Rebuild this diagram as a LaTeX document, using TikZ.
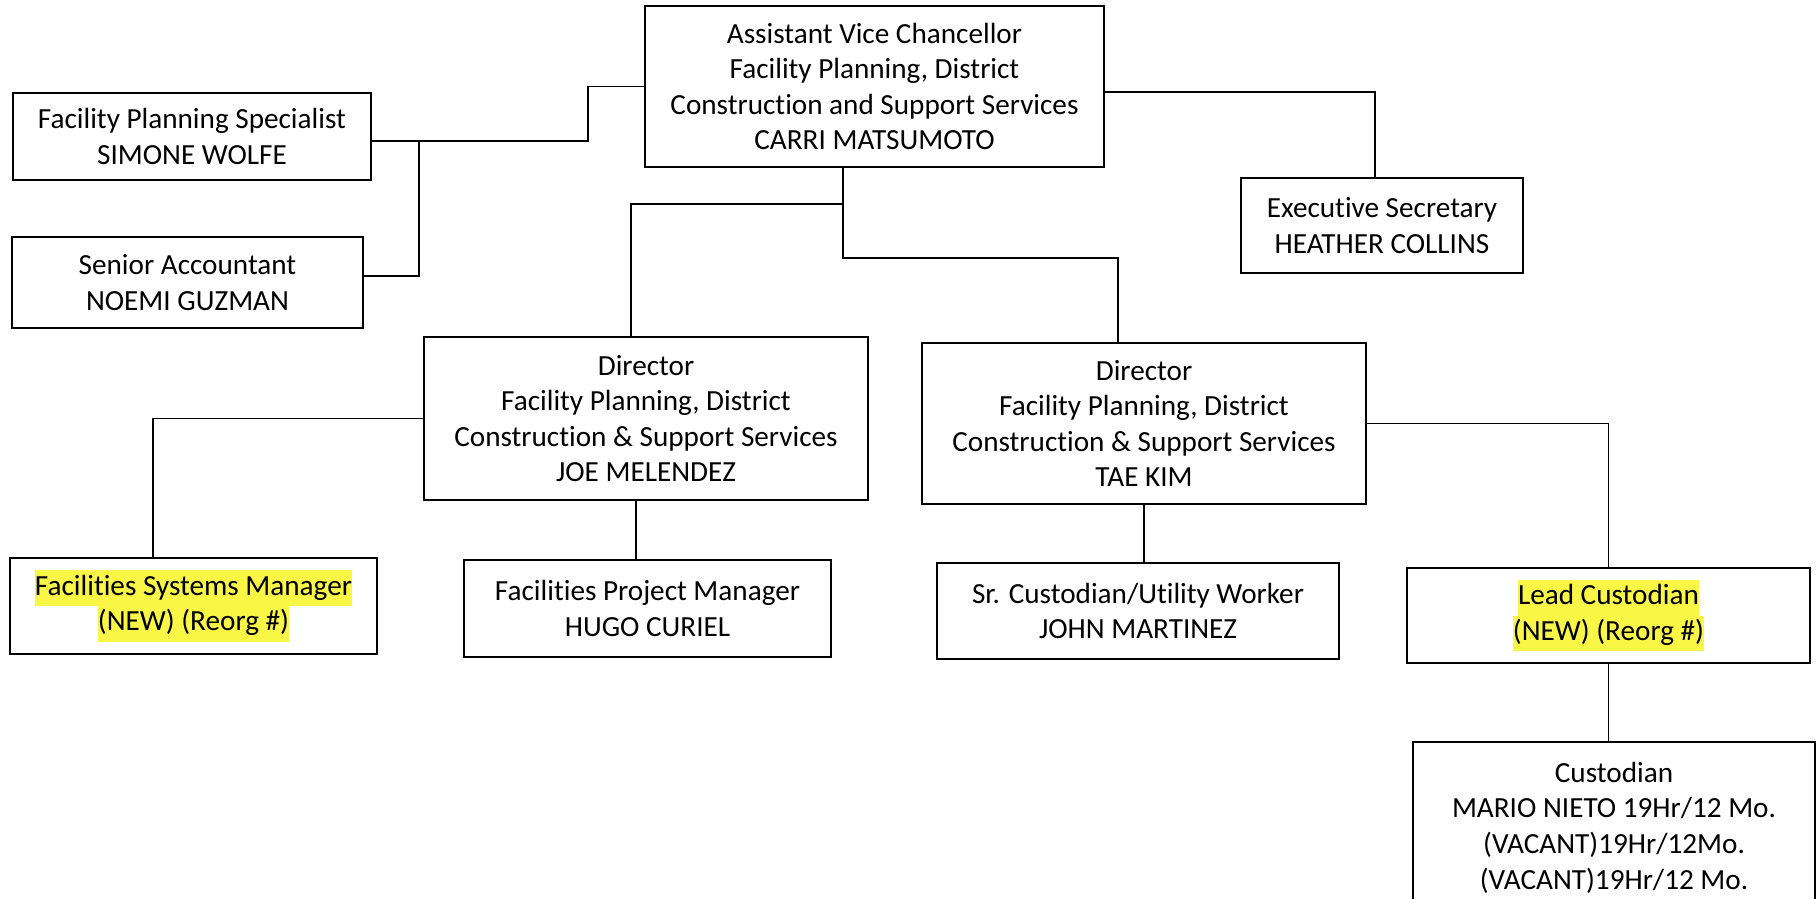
\documentclass[tikz,border=0pt]{standalone}
\usepackage{fontspec}
\setmainfont{Carlito}[Ligatures=NoCommon]
\usepackage{xcolor}

\definecolor{hlyellow}{RGB}{250,246,70}
\newcommand{\hilite}[1]{{\setlength{\fboxsep}{0pt}\colorbox{hlyellow}{\strut #1}}}

\begin{document}
\begin{tikzpicture}[x=0.5pt,y=-0.5pt,
  post/.style={draw,line width=1.1pt,align=center,inner sep=0pt,
    font=\fontsize{14.6}{17.8}\selectfont},
  link/.style={line width=0.9pt}]

\useasboundingbox (0,0) rectangle (1820,899);
\clip (0,0) rectangle (1820,899);
\fill[white] (0,0) rectangle (1820,899);

% top of the chart
\node[post,minimum width=229.5pt,minimum height=80.5pt] (avc) at (874.5,86.5)
  {Assistant Vice Chancellor\\Facility Planning, District\\Construction and Support Services\\CARRI MATSUMOTO};
\node[post,minimum width=179pt,minimum height=43.5pt] (fps) at (192,136.5)
  {Facility Planning Specialist\\SIMONE WOLFE};
\node[post,minimum width=175.5pt,minimum height=45.5pt] (acct) at (187.5,282.5)
  {Senior Accountant\\NOEMI GUZMAN};
\node[post,minimum width=141pt,minimum height=47.5pt] (sec) at (1382,225.5)
  {Executive Secretary\\HEATHER COLLINS};

% directors
\node[post,minimum width=222pt,minimum height=81.5pt] (dirjm) at (646,418.5)
  {Director\\Facility Planning, District\\Construction \& Support Services\\JOE MELENDEZ};
\node[post,minimum width=222pt,minimum height=80.5pt] (dirtk) at (1144,423.5)
  {Director\\Facility Planning, District\\Construction \& Support Services\\TAE KIM};

% staff
\node[post,minimum width=183.5pt,minimum height=48pt] (fsm) at (193.5,606)
  {\hilite{Facilities Systems Manager}\\\hilite{(NEW) (Reorg \#)}};
\node[post,minimum width=183.5pt,minimum height=48.5pt] (fpm) at (647.5,608.5)
  {Facilities Project Manager\\HUGO CURIEL};
\node[post,minimum width=201pt,minimum height=48pt] (sct) at (1138,611)
  {Sr. Custodian/Utility Worker\\JOHN MARTINEZ};
\node[post,minimum width=201.5pt,minimum height=47.5pt] (lead) at (1608.5,615.5)
  {\hilite{Lead Custodian}\\\hilite{(NEW) (Reorg \#)}};
\node[post,minimum width=201pt,inner ysep=10pt,anchor=north] (cust) at (1614,741)
  {Custodian\\MARIO NIETO 19Hr/12 Mo.\\(VACANT)19Hr/12Mo.\\(VACANT)19Hr/12 Mo.};

% bends of the connectors
\coordinate (ja) at (588,141);
\coordinate (jb) at (419,276);
\coordinate (jc) at (843,258);
\coordinate (jd) at (631,204);
\coordinate (je) at (1118,258);
\coordinate (jf) at (1375,92);
\coordinate (jg) at (153,418);
\coordinate (jh) at (636,500);

\draw[link] (avc.west) -| (ja) -- (fps.east |- ja);
\draw[link] (ja -| jb) -- (jb) -- (acct.east |- jb);
\draw[link] (avc.east |- jf) -- (jf) -- (sec.north -| jf);

\draw[link] (avc.south -| jc) -- (jc) -- (je) -- (dirtk.north -| je);
\draw[link] (jd -| jc) -- (jd) -- (dirjm.north -| jd);

\draw[link] (dirjm.west) -| (fsm.north -| jg);
\draw[link] (dirjm.south -| jh) -- (fpm.north -| jh);
\draw[link] (dirtk.south) -- (dirtk.south |- sct.north);
\draw[link] (dirtk.east) -| (lead.north);
\draw[link] (lead.south) -- (lead.south |- cust.north);

\end{tikzpicture}
\end{document}
